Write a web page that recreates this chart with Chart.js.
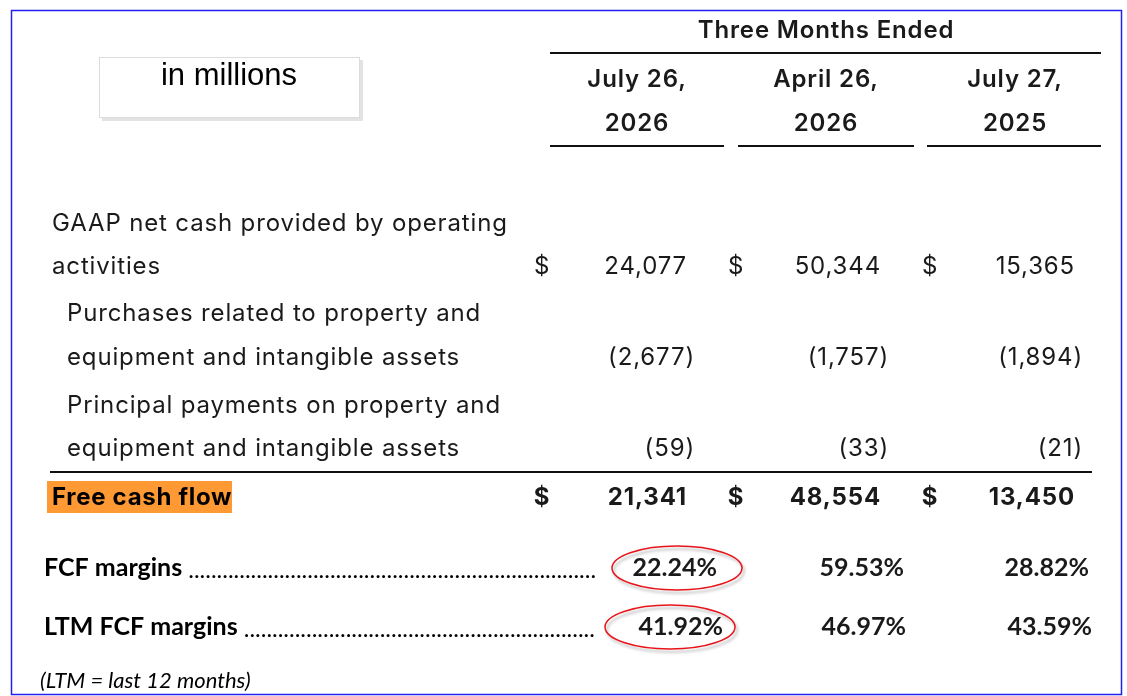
<!DOCTYPE html>
<html>
<head>
<meta charset="utf-8">
<script src="https://cdn.jsdelivr.net/npm/chart.js@4.4.1/dist/chart.umd.min.js"></script>
<style>
  html, body { margin: 0; padding: 0; background: #fff; }
  #wrap { width: 1127px; height: 696px; position: relative; }
</style>
</head>
<body>
<div id="wrap"><canvas id="fcfTable"></canvas></div>
<script>
// values (in millions)
const periodTop = ['July 26,', 'April 26,', 'July 27,'];
const periodBottom = ['2026', '2026', '2025'];
const operatingCash = [24077, 50344, 15365];
const capexPurchases = [-2677, -1757, -1894];
const principalPayments = [-59, -33, -21];
const freeCashFlow = [21341, 48554, 13450];
const fcfMargins = [22.24, 59.53, 28.82];
const ltmFcfMargins = [41.92, 46.97, 43.59];
const circledColumn = 0;

// layout, in canvas pixels (x/y scales run 0..1127 and 0..696)
const colCenter = [637, 826, 1015];
const colRight = [687, 881, 1075];
const parenRight = [695, 889, 1083];
const dollarX = [542, 736, 930];
const fcfRight = [717, 904, 1089];
const ltmRight = [723, 906, 1092];
const circleCenterX = { 568: 677, 627: 670 };

const MAIN = 'Inter, "Open Sans", sans-serif';
const CAL = 'Lato, "Open Sans", sans-serif';
const SPACED = '0.85px';

function money(v) {
  let s = Math.abs(v).toLocaleString('en-US');
  return v < 0 ? '(' + s + ')' : s;
}
function pct(v) { return v.toFixed(2) + '%'; }

function row(values, xs, y, fmt, extra) {
  return Object.assign({
    data: values.map((v, i) => ({ x: xs[i], y: y })),
    cells: values.map(fmt),
    rowY: y,
    spacing: '0px',
    pointRadius: 0,
    showLine: false
  }, extra);
}

const datasets = [
  row(periodTop, colCenter, 80, s => s, { font: '600 24px ' + MAIN, align: 'center', spacing: SPACED }),
  row(periodBottom, colCenter, 124, s => s, { font: '600 24px ' + MAIN, align: 'center', spacing: SPACED }),
  row(operatingCash, colRight, 267, money, { font: '400 24px ' + MAIN, align: 'right', dollar: true, spacing: SPACED }),
  row(capexPurchases, parenRight, 358, money, { font: '400 24px ' + MAIN, align: 'right', spacing: SPACED }),
  row(principalPayments, parenRight, 449, money, { font: '400 24px ' + MAIN, align: 'right', spacing: SPACED }),
  row(freeCashFlow, colRight, 498, money, { font: '700 24px ' + MAIN, align: 'right', dollar: true, spacing: SPACED }),
  row(fcfMargins, fcfRight, 568, pct, { font: '700 25px ' + CAL, align: 'right', circle: true }),
  row(ltmFcfMargins, ltmRight, 627, pct, { font: '700 25px ' + CAL, align: 'right', circle: true })
];

const tablePlugin = {
  id: 'tablePlugin',
  beforeDraw(chart) {
    const c = chart.ctx;
    const X = v => chart.scales.x.getPixelForValue(v);
    const Y = v => chart.scales.y.getPixelForValue(v);
    c.save();
    c.fillStyle = '#fff';
    c.fillRect(0, 0, chart.width, chart.height);

    // outer frame with soft shadow
    c.fillStyle = '#d8d8d8';
    c.fillRect(X(13), Y(13), X(1111) - X(13), Y(684) - Y(13));
    c.fillStyle = '#fff';
    c.fillRect(X(11), Y(10), X(1110), Y(684));
    c.strokeStyle = '#2020f0';
    c.lineWidth = 1.5;
    c.strokeRect(X(11) + 0.5, Y(10) + 0.5, X(1110), Y(684));

    // "in millions" box
    c.fillStyle = '#e3e3e3';
    c.fillRect(X(102), Y(60), X(261), Y(61));
    c.fillStyle = '#fff';
    c.fillRect(X(99), Y(57), X(260), Y(60));
    c.strokeStyle = '#dcdcdc';
    c.lineWidth = 1;
    c.strokeRect(X(99) + 0.5, Y(57) + 0.5, X(260), Y(60));
    c.fillStyle = '#000';
    c.font = '400 31px "Liberation Sans", Arial, sans-serif';
    c.textAlign = 'center';
    c.textBaseline = 'middle';
    c.fillText('in millions', X(229), Y(76));

    // header
    c.letterSpacing = SPACED;
    c.font = '600 24px ' + MAIN;
    c.fillStyle = '#1a1a1a';
    c.fillText('Three Months Ended', X(826), Y(31));

    c.strokeStyle = '#111';
    c.lineWidth = 2;
    const hline = (x0, x1, y) => { c.beginPath(); c.moveTo(X(x0), Y(y)); c.lineTo(X(x1), Y(y)); c.stroke(); };
    hline(550, 1101, 53);
    hline(550, 724, 146);
    hline(738, 914, 146);
    hline(927, 1101, 146);
    hline(50, 1092, 472);

    // row labels
    c.textAlign = 'left';
    c.font = '400 24px ' + MAIN;
    c.fillText('GAAP net cash provided by operating', X(52), Y(224));
    c.fillText('activities', X(52), Y(267));
    c.fillText('Purchases related to property and', X(67), Y(314));
    c.fillText('equipment and intangible assets', X(67), Y(358));
    c.fillText('Principal payments on property and', X(67), Y(406));
    c.fillText('equipment and intangible assets', X(67), Y(449));

    c.fillStyle = '#ff9933';
    c.fillRect(X(47), Y(481), X(232) - X(47), Y(513) - Y(481));
    c.fillStyle = '#000';
    c.font = '700 24px ' + MAIN;
    c.letterSpacing = '0.7px';
    c.fillText('Free cash flow', X(52), Y(498));
    c.letterSpacing = '0px';

    // dotted leaders
    c.font = '700 25px ' + CAL;
    const leader = (label, y, endX) => {
      c.fillText(label, X(44), Y(y));
      let x = X(44) + c.measureText(label + ' ').width;
      c.font = '400 24px ' + CAL;
      const dw = c.measureText('.').width;
      let dots = '';
      while (x + (dots.length + 1) * dw <= X(endX)) dots += '.';
      c.fillText(dots, x, Y(y) + 2);
      c.font = '700 25px ' + CAL;
    };
    leader('FCF margins', 568, 600);
    leader('LTM FCF margins', 627, 599);

    c.font = 'italic 400 22px ' + CAL;
    c.fillText('(LTM = last 12 months)', X(40), Y(681));
    c.restore();
  },
  afterDatasetsDraw(chart) {
    const c = chart.ctx;
    const X = v => chart.scales.x.getPixelForValue(v);
    c.save();
    c.textBaseline = 'middle';
    chart.data.datasets.forEach((ds, di) => {
      const pts = chart.getDatasetMeta(di).data;
      pts.forEach((p, i) => {
        c.font = ds.font;
        c.letterSpacing = ds.spacing;
        c.fillStyle = '#1a1a1a';
        c.textAlign = ds.align;
        c.fillText(ds.cells[i], p.x, p.y);
        if (ds.dollar) {
          c.textAlign = 'center';
          c.fillText('$', X(dollarX[i]), p.y);
        }
        if (ds.circle && i === circledColumn) {
          c.save();
          c.shadowColor = 'rgba(0,0,0,0.3)';
          c.shadowOffsetX = 2;
          c.shadowOffsetY = 3;
          c.shadowBlur = 3;
          c.strokeStyle = '#e8141b';
          c.lineWidth = 1.5;
          c.beginPath();
          c.ellipse(X(circleCenterX[ds.rowY]), p.y, 65, 22, 0, 0, Math.PI * 2);
          c.stroke();
          c.restore();
        }
      });
    });
    c.letterSpacing = '0px';
    c.restore();
  }
};

new Chart(document.getElementById('fcfTable'), {
  type: 'scatter',
  data: { datasets: datasets },
  options: {
    responsive: true,
    maintainAspectRatio: false,
    animation: false,
    layout: { padding: 0 },
    plugins: { legend: { display: false }, tooltip: { enabled: false } },
    scales: {
      x: { type: 'linear', min: 0, max: 1127, display: false },
      y: { type: 'linear', min: 0, max: 696, reverse: true, display: false }
    }
  },
  plugins: [tablePlugin]
});
</script>
</body>
</html>
